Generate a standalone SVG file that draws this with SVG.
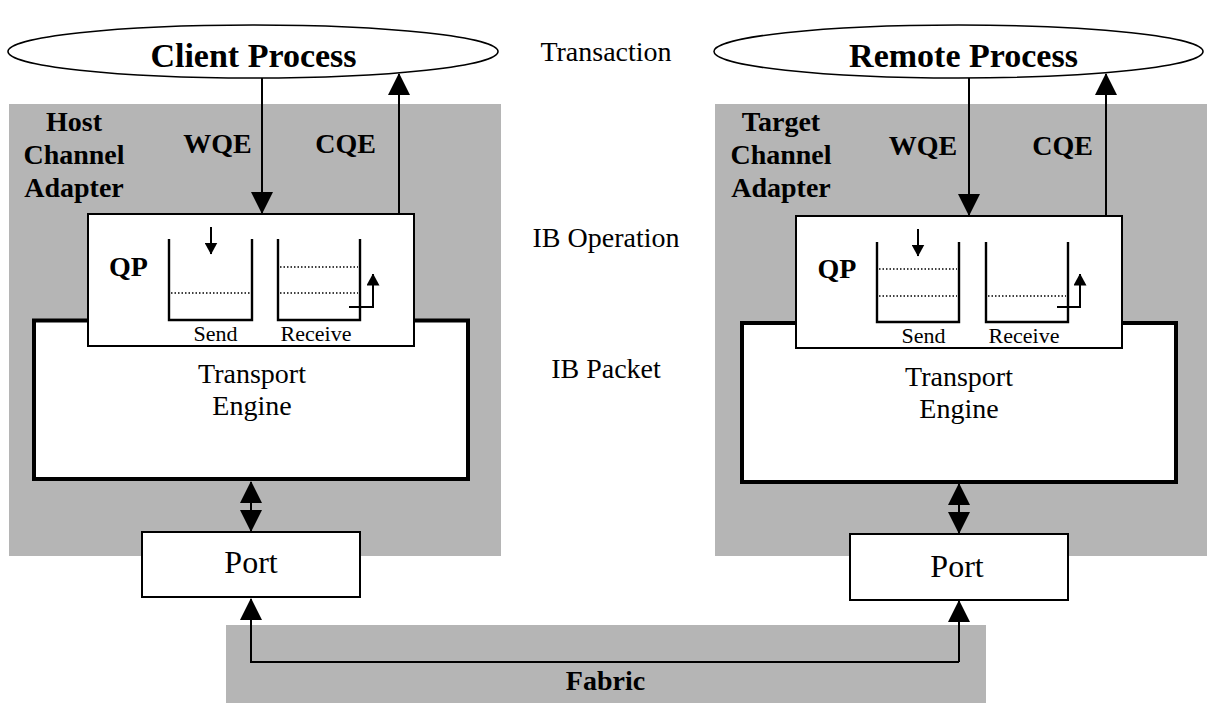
<svg xmlns="http://www.w3.org/2000/svg" width="1223" height="708" viewBox="0 0 1223 708">
<style>
text{font-family:"Liberation Serif","Times New Roman",serif;fill:#000;}
.b{font-weight:bold;font-size:28px;}
.big{font-weight:bold;font-size:34px;}
.n{font-size:28px;}
.s{font-size:22px;}
.p{font-size:32px;}
.panel{fill:#b5b5b5;stroke:none;}
.ell{fill:#fff;stroke:#000;stroke-width:1.6;}
.qp{fill:#fff;stroke:#000;stroke-width:2;}
.te{fill:#fff;stroke:#000;stroke-width:4;}
.port{fill:#fff;stroke:#000;stroke-width:2;}
.q{fill:none;stroke:#000;stroke-width:2.4;}
.dot{fill:none;stroke:#000;stroke-width:1.5;stroke-dasharray:1.5 2;}
.c{fill:none;stroke:#000;stroke-width:2;}
</style>
<defs>
<marker id="ah" viewBox="0 0 22 22" refX="21" refY="11" markerWidth="22" markerHeight="22" markerUnits="userSpaceOnUse" orient="auto-start-reverse">
<path d="M0,0 L22,11 L0,22 z" fill="#000"/>
</marker>
<marker id="sa" viewBox="0 0 12 13" refX="11.5" refY="6.5" markerWidth="12" markerHeight="13" markerUnits="userSpaceOnUse" orient="auto">
<path d="M0,0 L12,6.5 L0,13 z" fill="#000"/>
</marker>
</defs>
<rect x="0" y="0" width="1223" height="708" fill="#fff"/>

<g id="label-transaction"><text class="n" x="606" y="61" text-anchor="middle">Transaction</text></g>
<g id="label-ib-operation"><text class="n" x="606" y="247" text-anchor="middle">IB Operation</text></g>
<g id="label-ib-packet"><text class="n" x="606" y="378" text-anchor="middle">IB Packet</text></g>

<g id="fabric">
<rect class="panel" x="226" y="625" width="760" height="78"/>
<text class="b" x="605.5" y="690" text-anchor="middle">Fabric</text>
</g>

<g id="hca">
<rect class="panel" x="9" y="104" width="492" height="452"/>
<text class="b" x="74" y="131" text-anchor="middle">Host</text>
<text class="b" x="74" y="164" text-anchor="middle">Channel</text>
<text class="b" x="74" y="197" text-anchor="middle">Adapter</text>
<text class="b" x="217.5" y="153" text-anchor="middle">WQE</text>
<text class="b" x="345.5" y="153" text-anchor="middle">CQE</text>
</g>

<g id="tca">
<rect class="panel" x="715" y="104" width="492" height="452"/>
<text class="b" x="781" y="131" text-anchor="middle">Target</text>
<text class="b" x="781" y="164" text-anchor="middle">Channel</text>
<text class="b" x="781" y="197" text-anchor="middle">Adapter</text>
<text class="b" x="923" y="155" text-anchor="middle">WQE</text>
<text class="b" x="1062.5" y="155" text-anchor="middle">CQE</text>
</g>

<g id="client-process">
<ellipse class="ell" cx="253" cy="51.5" rx="245" ry="26.5"/>
<text class="big" x="253.5" y="67" text-anchor="middle">Client Process</text>
</g>

<g id="remote-process">
<ellipse class="ell" cx="958.5" cy="51.5" rx="244.5" ry="26.5"/>
<text class="big" x="963.5" y="67" text-anchor="middle">Remote Process</text>
</g>

<g id="transport-engine-left">
<rect class="te" x="34" y="320.5" width="434" height="158.5"/>
<text class="n" x="252" y="383" text-anchor="middle">Transport</text>
<text class="n" x="252" y="415" text-anchor="middle">Engine</text>
</g>

<g id="transport-engine-right">
<rect class="te" x="742" y="323" width="434" height="159"/>
<text class="n" x="959" y="386" text-anchor="middle">Transport</text>
<text class="n" x="959" y="418" text-anchor="middle">Engine</text>
</g>

<g id="qp-left">
<rect class="qp" x="88" y="214" width="326" height="132"/>
<text class="b" x="128.5" y="276" text-anchor="middle">QP</text>
<path class="q" d="M169,239 V320 H252 V239"/>
<line class="dot" x1="171" y1="293" x2="250" y2="293"/>
<line class="c" x1="211" y1="227" x2="211" y2="254" marker-end="url(#sa)"/>
<path class="q" d="M278,239 V320 H360 V239"/>
<line class="dot" x1="280" y1="267" x2="358" y2="267"/>
<line class="dot" x1="280" y1="293" x2="358" y2="293"/>
<path class="c" d="M349,307 H373 V274" marker-end="url(#sa)"/>
<text class="s" x="215.5" y="341" text-anchor="middle">Send</text>
<text class="s" x="316" y="341" text-anchor="middle">Receive</text>
</g>

<g id="qp-right">
<rect class="qp" x="796" y="216" width="326" height="132"/>
<text class="b" x="837" y="278" text-anchor="middle">QP</text>
<path class="q" d="M877,242 V322 H959 V242"/>
<line class="dot" x1="879" y1="269" x2="957" y2="269"/>
<line class="dot" x1="879" y1="296" x2="957" y2="296"/>
<line class="c" x1="918" y1="229" x2="918" y2="256" marker-end="url(#sa)"/>
<path class="q" d="M986,242 V322 H1068 V242"/>
<line class="dot" x1="988" y1="296" x2="1066" y2="296"/>
<path class="c" d="M1057,307 H1080 V274" marker-end="url(#sa)"/>
<text class="s" x="923.5" y="343" text-anchor="middle">Send</text>
<text class="s" x="1024" y="343" text-anchor="middle">Receive</text>
</g>

<g id="port-left">
<rect class="port" x="142" y="532" width="218" height="65"/>
<text class="p" x="251" y="573" text-anchor="middle">Port</text>
</g>

<g id="port-right">
<rect class="port" x="850" y="534" width="218" height="66"/>
<text class="p" x="957" y="577" text-anchor="middle">Port</text>
</g>

<g id="connectors">
<line class="c" x1="262" y1="78" x2="262" y2="213" marker-end="url(#ah)"/>
<line class="c" x1="399" y1="214" x2="399" y2="74" marker-end="url(#ah)"/>
<line class="c" x1="969" y1="78" x2="969" y2="215" marker-end="url(#ah)"/>
<line class="c" x1="1106" y1="216" x2="1106" y2="74" marker-end="url(#ah)"/>
<line class="c" x1="251" y1="482" x2="251" y2="531" marker-start="url(#ah)" marker-end="url(#ah)"/>
<line class="c" x1="959" y1="484" x2="959" y2="533" marker-start="url(#ah)" marker-end="url(#ah)"/>
<path class="c" d="M959,662 H251 V599" marker-end="url(#ah)"/>
<line class="c" x1="959" y1="662" x2="959" y2="601" marker-end="url(#ah)"/>
</g>
</svg>
